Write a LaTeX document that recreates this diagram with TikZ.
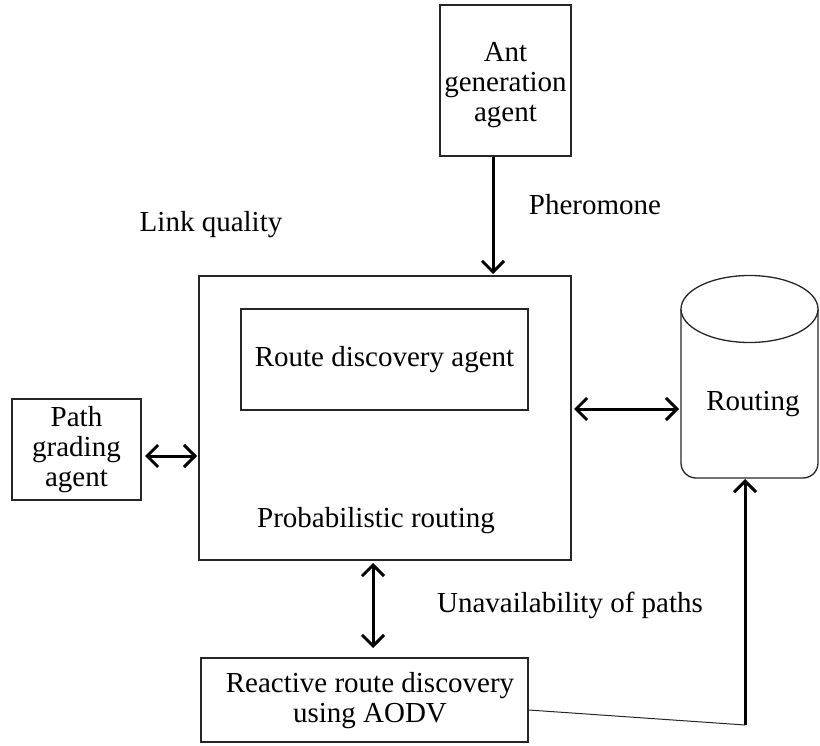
\documentclass[tikz,border=0pt]{standalone}
\usepackage{fontspec}
\setmainfont{Liberation Serif}
\usetikzlibrary{arrows.meta}
\begin{document}
\begin{tikzpicture}[x=1pt,y=-1pt,
  box/.style={draw=black!85,line width=1.3pt,inner sep=0pt},
  txt/.style={font=\fontsize{29}{30}\selectfont,align=center,text=black},
  arr/.style={line width=3pt,-{Straight Barb[length=11pt,width=22pt,line width=3pt]}},
  darr/.style={line width=3pt,{Straight Barb[length=11pt,width=22pt,line width=3pt]}-{Straight Barb[length=11pt,width=22pt,line width=3pt]}},
  thin/.style={line width=1.3pt,draw=black!85}]
\useasboundingbox (0,0) rectangle (820,746);
% boxes
\node[box,minimum width=131pt,minimum height=151pt] (ant) at (505.5,80.5) {};
\node[txt] at (505.5,85) {Ant\\generation\\agent};
\node[box,minimum width=372pt,minimum height=284pt] (prob) at (385,418) {};
\node[box,minimum width=287pt,minimum height=101pt] (rda) at (384.5,359.5) {};
\node[txt] at (rda.center) {Route discovery agent};
\node[txt] (probtxt) at (376,521) {Probabilistic routing};
\node[box,minimum width=129pt,minimum height=101pt] (pga) at (76.5,449.5) {};
\node[txt] at (pga.center) {Path\\grading\\agent};
\node[box,minimum width=327pt,minimum height=84pt] (aodv) at (364.5,700) {};
\node[txt] at (370,701) {Reactive route discovery\\using AODV};
% cylinder
\draw[thin,rounded corners=15pt] (681,309) -- (681,478) -- (818,478) -- (818,309);
\draw[thin,fill=white] (749.5,309) ellipse[x radius=68.5,y radius=33.5];
\node[txt] (routing) at (753,404) {Routing};
\coordinate (cylW) at (679,409);
\coordinate (cylS) at (745,479);
% labels
\node[txt] (pher) at (595,205) {Pheromone};
\node[txt] (lq) at (211,225) {Link quality};
\node[txt] (unav) at (570,605) {Unavailability of paths};
% connectors
\draw[arr] (ant.south -| 493,0) -- (493,274);
\draw[darr] (145,456) -- (197,456);
\draw[darr] (574,409) -- (cylW);
\draw[darr] (373,563) -- (373,648);
\coordinate (bend) at (745,725);
\draw[thin,line width=1pt] (aodv.east |- 0,710) -- (bend);
\draw[arr] (bend) -- (cylS);
\end{tikzpicture}
\end{document}
